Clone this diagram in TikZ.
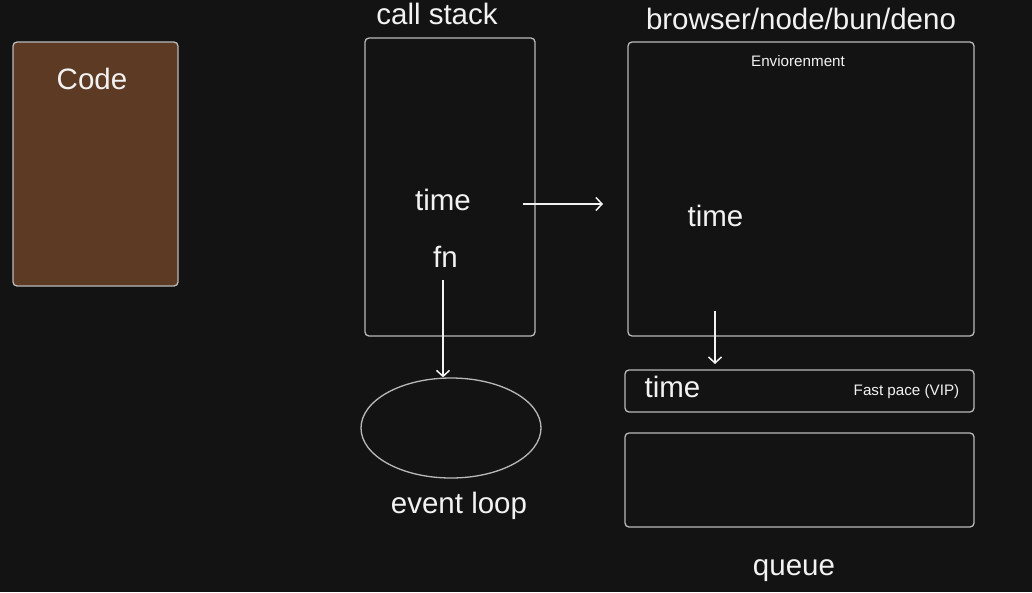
\documentclass[tikz,border=0pt]{standalone}
\usepackage{fontspec}
\setmainfont{Liberation Sans}
\usetikzlibrary{arrows.meta,shapes.geometric}
\definecolor{bg}{RGB}{19,19,19}
\definecolor{codebrown}{RGB}{92,58,35}
\definecolor{edge}{RGB}{185,185,185}
\definecolor{ink}{RGB}{242,242,242}
\tikzset{
  panel/.style={draw=edge, line width=1.3pt, rounded corners=4pt, inner sep=0pt},
  big/.style={text=ink, inner sep=0pt, anchor=base, font=\fontsize{29.5}{31}\selectfont},
  small/.style={text=ink, inner sep=0pt, anchor=base, font=\fontsize{15.2}{17}\selectfont},
  flow/.style={draw=ink, line width=1.5pt, -{Straight Barb[length=6pt,width=13pt]}}
}
\begin{document}
\begin{tikzpicture}[x=1pt,y=-1pt]
\fill[bg] (0,0) rectangle (1032,592);
\useasboundingbox (0,0) rectangle (1032,592);
% boxes
\node[panel, fill=codebrown, minimum width=165pt, minimum height=244pt] (code) at (95.5,164) {};
\node[panel, minimum width=170pt, minimum height=298pt] (stack) at (450,187) {};
\node[panel, minimum width=346pt, minimum height=294pt] (env) at (801,189) {};
\node[panel, minimum width=349pt, minimum height=42pt] (fast) at (799.5,391) {};
\node[panel, minimum width=349pt, minimum height=94pt] (queue) at (799.5,480) {};
\node[draw=edge, line width=1.3pt, ellipse, minimum width=180pt, minimum height=100pt, inner sep=0pt] (loop) at (451,428) {};
% texts
\node[big] (codelbl) at (92,89) {Code};
\node[big] (stacklbl) at (437,24) {call stack};
\node[big] (cstime) at (443,210) {time};
\node[big] (fn) at (445.5,267) {fn};
\node[big] (envlbl) at (801,29) {browser/node/bun/deno};
\node[small] (envsub) at (798,66) {Enviorenment};
\node[big] (envtime) at (715.5,226) {time};
\node[big] (fasttime) at (672.5,397) {time};
\node[small] (fastlbl) at (906.5,395) {Fast pace (VIP)};
\node[big] (looplbl) at (459,513) {event loop};
\node[big] (queuelbl) at (794,575) {queue};
% connectors
\coordinate (a1s) at (523,204);
\coordinate (a1e) at (603,204);
\draw[flow] (a1s) -- (a1e);
\coordinate (a2s) at (443,280);
\draw[flow] (a2s) -- (loop.north -| a2s);
\coordinate (a3s) at (715,311);
\coordinate (a3e) at (715,364);
\draw[flow] (a3s) -- (a3e);
\end{tikzpicture}
\end{document}
